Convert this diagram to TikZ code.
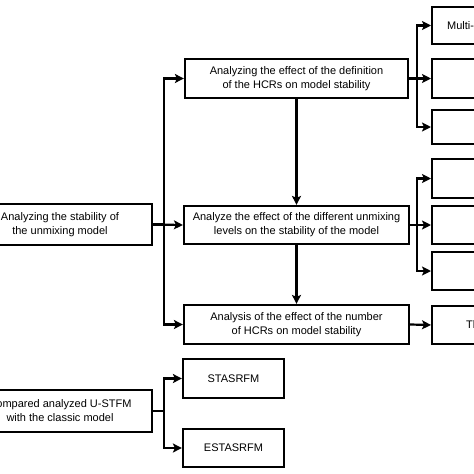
\documentclass[tikz,border=0pt]{standalone}
\usepackage{fontspec}
\setmainfont{Liberation Sans}
\usetikzlibrary{arrows.meta}
\tikzset{
  box/.style={draw=black, line width=2.2pt, rectangle, inner sep=0pt, align=center,
    font=\fontsize{11}{14}\selectfont, fill=white},
  rbox/.style={box, anchor=west, minimum width=90pt, align=left, text width=60pt, inner xsep=14pt},
  arr/.style={line width=2.2pt, -{Stealth[length=9pt,width=9pt,inset=2pt]}},
}
\begin{document}
\begin{tikzpicture}[x=1pt,y=-1pt]
\useasboundingbox (0,0) rectangle (474,474);
\fill[white] (0,0) rectangle (474,474);
\clip (0,0) rectangle (474,474);
% left boxes
\node[box, minimum width=184pt, minimum height=41pt] (L1) at (60,224.5) {Analyzing the stability of\\the unmixing model};
\node[box, minimum width=184pt, minimum height=42pt] (L2) at (60,411) {Compared analyzed U-STFM\\with the classic model};
% middle boxes
\node[box, minimum width=223pt, minimum height=39pt] (M1) at (296.5,78.5) {Analyzing the effect of the definition\\of the HCRs on model stability};
\node[box, minimum width=225pt, minimum height=38pt] (M2) at (296.5,225) {Analyze the effect of the different unmixing\\levels on the stability of the model};
\node[box, minimum width=225pt, minimum height=39pt] (M3) at (296.5,324.5) {Analysis of the effect of the number\\of HCRs on model stability};
% bottom boxes
\node[box, minimum width=101pt, minimum height=39pt] (B1) at (233.5,378.5) {STASRFM};
\node[box, minimum width=101pt, minimum height=38pt] (B2) at (233.5,448) {ESTASRFM};
% right boxes
\node[rbox, minimum height=37pt] (R1) at (431,25.5) {Multi-};
\node[rbox, minimum height=39pt] (R2) at (431,78.5) {};
\node[rbox, minimum height=34pt] (R3) at (431,127) {};
\node[rbox, minimum height=39pt] (R4) at (431,178.5) {};
\node[rbox, minimum height=38pt] (R5) at (431,225) {};
\node[rbox, minimum height=38pt] (R6) at (431,271) {};
\node[rbox, minimum height=38pt, inner xsep=34pt] (R7) at (431,325) {Th};
% connectors
\draw[arr] (L1.east) -- (M2.west);
\draw[arr] (L1.east) -- ++(11,0) |- (M1.west);
\draw[arr] (L1.east) -- ++(11,0) |- (M3.west);
\draw[arr] (M1.south) -- (M2.north);
\draw[arr] (M2.south) -- (M3.north);
\draw[arr] (M1.east) -- (R2.west);
\draw[arr] (M1.east) -- ++(8,0) |- (R1.west);
\draw[arr] (M1.east) -- ++(8,0) |- (R3.west);
\draw[arr] (M2.east) -- (R5.west);
\draw[arr] (M2.east) -- ++(7,0) |- (R4.west);
\draw[arr] (M2.east) -- ++(7,0) |- (R6.west);
\draw[arr] (M3.east) -- (R7.west);
\draw[arr] (L2.east) -- ++(11,0) |- (B1.west);
\draw[arr] (L2.east) -- ++(11,0) |- (B2.west);
\end{tikzpicture}
\end{document}
